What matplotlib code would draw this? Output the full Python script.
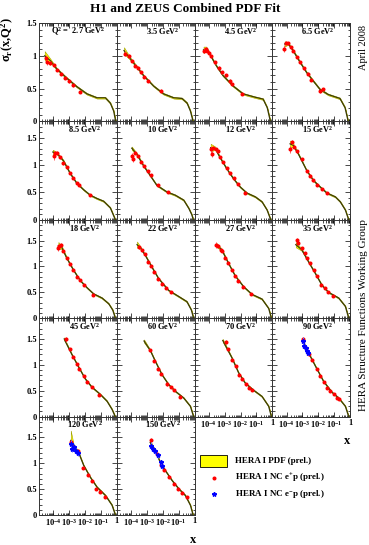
import numpy as np
import matplotlib
matplotlib.use("Agg")
import matplotlib.pyplot as plt
from matplotlib.ticker import LogLocator, MultipleLocator, FixedLocator, FuncFormatter, NullFormatter
from matplotlib.patches import Rectangle
from matplotlib.lines import Line2D

plt.rcParams["font.family"] = "Liberation Serif"
plt.rcParams["font.weight"] = "bold"
plt.rcParams["mathtext.fontset"] = "custom"
plt.rcParams["mathtext.rm"] = "Liberation Serif:bold"
plt.rcParams["mathtext.it"] = "Liberation Serif:bold"
plt.rcParams["mathtext.bf"] = "Liberation Serif:bold"

W, H = 369, 545

Q2_LABELS = ["2.7", "3.5", "4.5", "6.5", "8.5", "10", "12", "15", "18",
             "22", "27", "35", "45", "60", "70", "90", "120", "150"]

# fit curve (log10 x, sigma_r) per panel
CURVE_LOGX = [
    [-4.54, -4.20, -3.78, -3.15, -2.52, -1.88, -1.25, -0.72, -0.41, -0.20, -0.07],
    [-4.44, -4.06, -3.63, -3.21, -2.58, -1.95, -1.31, -0.79, -0.47, -0.26, -0.09],
    [-4.33, -4.16, -3.95, -3.53, -3.11, -2.47, -1.84, -1.10, -0.58, -0.32, -0.12],
    [-4.12, -3.91, -3.59, -3.17, -2.75, -2.33, -1.90, -1.38, -0.64, -0.32, -0.12],
    [-4.03, -3.78, -3.36, -2.94, -2.52, -2.09, -1.67, -1.25, -0.83, -0.41, -0.09],
    [-3.95, -3.63, -3.21, -2.79, -2.37, -1.74, -1.21, -0.68, -0.36, -0.18, -0.07],
    [-3.88, -3.60, -3.29, -2.86, -2.44, -2.02, -1.60, -1.07, -0.65, -0.33, -0.10],
    [-3.78, -3.57, -3.25, -2.73, -2.31, -1.88, -1.46, -0.93, -0.62, -0.30, -0.09],
    [-3.68, -3.47, -3.15, -2.73, -2.31, -1.88, -1.46, -0.93, -0.51, -0.26, -0.09],
    [-3.62, -3.40, -3.11, -2.69, -2.27, -1.64, -1.00, -0.48, -0.20, -0.06],
    [-3.54, -3.18, -2.76, -2.34, -1.81, -1.28, -0.65, -0.23, -0.06],
    [-3.42, -3.04, -2.62, -2.20, -1.78, -1.36, -0.72, -0.30, -0.09],
    [-3.31, -3.25, -2.83, -2.41, -1.99, -1.57, -1.04, -0.62, -0.30, -0.10],
    [-3.18, -2.79, -2.47, -2.05, -1.63, -1.21, -0.68, -0.26, -0.06],
    [-3.12, -2.55, -2.13, -1.71, -1.18, -0.65, -0.23, -0.06],
    [-3.00, -2.62, -2.09, -1.67, -1.14, -0.72, -0.30, -0.09],
    [-2.90, -2.73, -2.41, -2.09, -1.67, -1.25, -0.72, -0.30, -0.09],
    [-2.79, -2.47, -2.16, -1.84, -1.42, -1.00, -0.58, -0.26, -0.09],
]
CURVE_SIGMA = [
    [1.00, 0.93, 0.80, 0.66, 0.53, 0.42, 0.36, 0.36, 0.28, 0.16, 0.00],
    [1.08, 0.96, 0.83, 0.70, 0.54, 0.42, 0.36, 0.35, 0.28, 0.16, 0.00],
    [1.09, 1.11, 1.03, 0.85, 0.70, 0.54, 0.42, 0.37, 0.34, 0.21, 0.00],
    [1.18, 1.19, 1.08, 0.91, 0.75, 0.62, 0.49, 0.41, 0.35, 0.21, 0.00],
    [1.24, 1.22, 1.08, 0.85, 0.67, 0.55, 0.45, 0.39, 0.34, 0.22, 0.00],
    [1.31, 1.20, 0.99, 0.81, 0.63, 0.51, 0.45, 0.36, 0.21, 0.10, 0.00],
    [1.32, 1.31, 1.14, 0.93, 0.75, 0.60, 0.49, 0.42, 0.33, 0.18, 0.00],
    [1.39, 1.36, 1.20, 0.90, 0.72, 0.60, 0.49, 0.42, 0.33, 0.18, 0.00],
    [1.40, 1.37, 1.16, 0.93, 0.73, 0.59, 0.47, 0.39, 0.28, 0.16, 0.00],
    [1.42, 1.36, 1.22, 0.99, 0.77, 0.54, 0.42, 0.32, 0.16, 0.00],
    [1.42, 1.32, 1.06, 0.82, 0.61, 0.46, 0.37, 0.19, 0.00],
    [1.42, 1.32, 1.09, 0.87, 0.64, 0.50, 0.39, 0.23, 0.00],
    [1.50, 1.46, 1.20, 0.96, 0.73, 0.57, 0.43, 0.30, 0.14, 0.00],
    [1.46, 1.28, 1.07, 0.81, 0.62, 0.49, 0.36, 0.20, 0.00],
    [1.47, 1.14, 0.85, 0.65, 0.51, 0.39, 0.20, 0.00],
    [1.46, 1.23, 0.92, 0.68, 0.47, 0.36, 0.20, 0.00],
    [1.44, 1.34, 1.21, 0.96, 0.73, 0.54, 0.38, 0.19, 0.00],
    [1.40, 1.24, 1.02, 0.86, 0.67, 0.51, 0.38, 0.19, 0.00],
]
BAND_ERR = [
    [0.07, 0.03, 0.015, 0.012, 0.012, 0.012, 0.012, 0.012, 0.012, 0.012, 0.01],
    [0.05, 0.02, 0.015, 0.012, 0.012, 0.012, 0.012, 0.012, 0.012, 0.012, 0.01],
    [0.05, 0.03, 0.015, 0.012, 0.012, 0.012, 0.012, 0.012, 0.012, 0.012, 0.01],
    [0.04, 0.02, 0.015, 0.012, 0.012, 0.012, 0.012, 0.012, 0.012, 0.012, 0.01],
    [0.04, 0.02, 0.015, 0.012, 0.012, 0.012, 0.012, 0.012, 0.012, 0.012, 0.01],
    [0.03, 0.02, 0.015, 0.012, 0.012, 0.012, 0.012, 0.012, 0.012, 0.012, 0.01],
    [0.07, 0.03, 0.015, 0.012, 0.012, 0.012, 0.012, 0.012, 0.012, 0.012, 0.01],
    [0.06, 0.03, 0.015, 0.012, 0.012, 0.012, 0.012, 0.012, 0.012, 0.012, 0.01],
    [0.07, 0.03, 0.015, 0.012, 0.012, 0.012, 0.012, 0.012, 0.012, 0.012, 0.01],
    [0.06, 0.02, 0.015, 0.012, 0.012, 0.012, 0.012, 0.012, 0.012, 0.01],
    [0.04, 0.02, 0.012, 0.012, 0.012, 0.012, 0.012, 0.012, 0.01],
    [0.05, 0.02, 0.012, 0.012, 0.012, 0.012, 0.012, 0.012, 0.01],
    [0.03, 0.02, 0.012, 0.012, 0.012, 0.012, 0.012, 0.012, 0.012, 0.01],
    [0.03, 0.015, 0.012, 0.012, 0.012, 0.012, 0.012, 0.012, 0.01],
    [0.03, 0.012, 0.012, 0.012, 0.012, 0.012, 0.012, 0.01],
    [0.04, 0.015, 0.012, 0.012, 0.012, 0.012, 0.012, 0.01],
    [0.19, 0.04, 0.015, 0.012, 0.012, 0.012, 0.012, 0.012, 0.01],
    [0.04, 0.015, 0.012, 0.012, 0.012, 0.012, 0.012, 0.012, 0.01],
]

# HERA I NC e+p points
EP_LOGX = [
    [-4.48, -4.41, -4.20, -3.93, -3.74, -3.51, -3.25, -3.04, -2.77, -2.31],
    [-4.37, -4.10, -3.95, -3.74, -3.57, -3.36, -3.17, -2.94, -2.09],
    [-4.33, -4.20, -4.12, -3.99, -3.85, -3.63, -3.36, -3.15, -2.94, -2.68, -2.52, -1.88],
    [-4.18, -4.06, -3.89, -3.74, -3.59, -3.34, -3.13, -2.90, -2.68, -2.47, -1.90, -1.69],
    [-3.97, -3.90, -3.78, -3.57, -3.36, -3.15, -2.94, -2.73, -2.52, -2.35, -1.71],
    [-3.95, -3.89, -3.74, -3.53, -3.38, -3.17, -2.96, -2.75, -2.33, -1.70],
    [-3.88, -3.81, -3.71, -3.56, -3.45, -3.29, -3.08, -2.86, -2.65, -2.44, -2.19, -1.70],
    [-3.78, -3.63, -3.53, -3.36, -3.04, -2.73, -2.52, -2.31, -2.09, -1.78, -1.46],
    [-3.70, -3.63, -3.51, -3.36, -3.15, -2.94, -2.73, -2.52, -2.30, -2.09, -1.52],
    [-3.48, -3.32, -3.11, -2.90, -2.73, -2.52, -2.31, -2.06, -1.81, -1.49],
    [-3.56, -3.43, -3.26, -3.14, -2.97, -2.80, -2.55, -2.34, -2.13, -1.87, -1.32],
    [-3.33, -3.25, -3.04, -2.87, -2.72, -2.51, -2.30, -2.09, -1.84, -1.61, -1.40, -1.08],
    [-3.22, -2.94, -2.73, -2.52, -2.35, -2.09, -1.88, -1.57, -1.10],
    [-2.79, -2.52, -2.31, -2.10, -1.74, -1.46, -1.32, -0.90],
    [-2.93, -2.76, -2.51, -2.30, -2.09, -1.88, -1.67, -1.46, -1.25],
    [-2.98, -2.58, -2.37, -2.09, -1.88, -1.67, -1.46, -1.25, -1.04, -0.83, -0.68],
    [-2.90, -2.73, -2.47, -2.14, -1.84, -1.57, -1.29, -1.04, -0.72],
    [-2.75, -2.37, -2.08, -1.90, -1.63, -1.32, -1.06, -0.79, -0.47],
]
EP_SIGMA = [
    [0.96, 0.90, 0.89, 0.86, 0.79, 0.73, 0.66, 0.61, 0.55, 0.45],
    [1.03, 0.99, 0.92, 0.85, 0.82, 0.75, 0.68, 0.62, 0.47],
    [1.08, 1.11, 1.08, 1.04, 0.99, 0.90, 0.82, 0.75, 0.70, 0.62, 0.57, 0.42],
    [1.11, 1.19, 1.19, 1.13, 1.08, 0.98, 0.90, 0.81, 0.73, 0.63, 0.46, 0.49],
    [1.16, 1.22, 1.22, 1.14, 1.03, 0.96, 0.85, 0.77, 0.67, 0.64, 0.46],
    [1.17, 1.11, 1.23, 1.16, 1.06, 0.99, 0.90, 0.82, 0.63, 0.51],
    [1.29, 1.20, 1.32, 1.29, 1.25, 1.14, 1.05, 0.94, 0.85, 0.76, 0.66, 0.49],
    [1.29, 1.42, 1.34, 1.26, 1.11, 0.90, 0.81, 0.72, 0.64, 0.57, 0.49],
    [1.36, 1.40, 1.42, 1.29, 1.16, 1.04, 0.93, 0.80, 0.73, 0.64, 0.45],
    [1.38, 1.31, 1.24, 1.08, 1.00, 0.90, 0.76, 0.66, 0.58, 0.50],
    [1.42, 1.40, 1.32, 1.29, 1.16, 1.06, 0.93, 0.82, 0.71, 0.61, 0.46],
    [1.51, 1.45, 1.35, 1.25, 1.16, 1.06, 0.93, 0.82, 0.64, 0.58, 0.50, 0.43],
    [1.49, 1.31, 1.15, 1.02, 0.92, 0.78, 0.67, 0.57, 0.41],
    [1.28, 1.08, 0.92, 0.83, 0.62, 0.57, 0.51, 0.38],
    [1.44, 1.30, 1.10, 0.97, 0.81, 0.72, 0.62, 0.55, 0.52],
    [1.49, 1.20, 1.10, 0.92, 0.79, 0.66, 0.55, 0.49, 0.43, 0.36, 0.34],
    [1.40, 1.31, 1.24, 0.91, 0.77, 0.65, 0.50, 0.45, 0.34],
    [1.44, 1.18, 0.96, 0.86, 0.73, 0.59, 0.51, 0.43, 0.34],
]
EP_ERR = [
    [0.05, 0.04, 0.03, 0.02, 0.02, 0.02, 0.02, 0.02, 0.02, 0.02],
    [0.04, 0.03, 0.02, 0.02, 0.02, 0.02, 0.02, 0.02, 0.02],
    [0.04, 0.03, 0.02, 0.02, 0.02, 0.02, 0.02, 0.02, 0.02, 0.02, 0.02, 0.02],
    [0.05, 0.03, 0.02, 0.02, 0.02, 0.02, 0.02, 0.02, 0.02, 0.02, 0.02, 0.02],
    [0.06, 0.04, 0.03, 0.02, 0.02, 0.02, 0.02, 0.02, 0.02, 0.02, 0.02],
    [0.06, 0.05, 0.03, 0.02, 0.02, 0.02, 0.02, 0.02, 0.02, 0.02],
    [0.06, 0.05, 0.03, 0.03, 0.02, 0.02, 0.02, 0.02, 0.02, 0.02, 0.02, 0.02],
    [0.06, 0.04, 0.03, 0.02, 0.02, 0.02, 0.02, 0.02, 0.02, 0.02, 0.02],
    [0.06, 0.04, 0.04, 0.02, 0.02, 0.02, 0.02, 0.02, 0.02, 0.02, 0.02],
    [0.04, 0.03, 0.02, 0.02, 0.02, 0.02, 0.02, 0.02, 0.02, 0.02],
    [0.06, 0.04, 0.03, 0.02, 0.02, 0.02, 0.02, 0.02, 0.02, 0.02, 0.02],
    [0.04, 0.03, 0.02, 0.02, 0.02, 0.02, 0.02, 0.02, 0.02, 0.02, 0.02, 0.02],
    [0.04, 0.02, 0.02, 0.02, 0.02, 0.02, 0.02, 0.02, 0.02],
    [0.02, 0.02, 0.02, 0.02, 0.02, 0.02, 0.02, 0.02],
    [0.03, 0.02, 0.02, 0.02, 0.02, 0.02, 0.02, 0.02, 0.02],
    [0.05, 0.03, 0.02, 0.02, 0.02, 0.02, 0.02, 0.02, 0.02, 0.02, 0.02],
    [0.05, 0.04, 0.03, 0.02, 0.02, 0.02, 0.02, 0.02, 0.02],
    [0.05, 0.03, 0.02, 0.02, 0.02, 0.02, 0.02, 0.02, 0.02],
]

# HERA I NC e-p points (only at high Q2)
EM_LOGX = {
    15: [-2.98, -2.92, -2.79, -2.73, -2.66],
    16: [-2.87, -2.81, -2.68, -2.56, -2.45],
    17: [-2.75, -2.62, -2.47, -2.28, -2.12, -2.05],
}
EM_SIGMA = {
    15: [1.46, 1.37, 1.33, 1.26, 1.23],
    16: [1.37, 1.28, 1.31, 1.23, 1.19],
    17: [1.34, 1.28, 1.23, 1.15, 1.02, 0.94],
}
EM_ERR = {
    15: [0.07, 0.06, 0.06, 0.05, 0.05],
    16: [0.08, 0.07, 0.06, 0.06, 0.05],
    17: [0.07, 0.06, 0.06, 0.05, 0.05, 0.05],
}

COL_LEFT = [39, 116.7, 194.5, 272.3]
COL_W = 77.8
ROW_TOP = [23, 121.4, 219.8, 318.2, 416.6]
ROW_H = 98.4
ROW_YMAX = [1.5, 1.8, 1.9, 1.9, 1.9]
XMIN = 10 ** -4.9

BAND_COLOR = "#ffff00"
LINE_COLOR = "#3a3a08"


def fmt_x(v, pos):
    e = int(round(np.log10(v)))
    if e == 0:
        return "1"
    return "10$^{%d}$" % e


def fmt_y(v, pos):
    return "%g" % v


fig = plt.figure(figsize=(W / 100, H / 100), dpi=100)

for i, label in enumerate(Q2_LABELS):
    row, col = i // 4, i % 4
    l, t = COL_LEFT[col], ROW_TOP[row]
    ax = fig.add_axes([l / W, 1 - (t + ROW_H) / H, COL_W / W, ROW_H / H])
    ax.set_xscale("log")
    ax.set_xlim(XMIN, 1)
    ax.set_ylim(0, ROW_YMAX[row])

    cx = 10 ** np.array(CURVE_LOGX[i])
    cy = np.array(CURVE_SIGMA[i])
    be = np.array(BAND_ERR[i])
    ax.fill_between(cx, cy - be, cy + be, color=BAND_COLOR, lw=0.4,
                    edgecolor="#a0a000", zorder=2)
    ax.plot(cx, cy, color=LINE_COLOR, lw=0.9, zorder=3)

    ax.errorbar(10 ** np.array(EP_LOGX[i]), EP_SIGMA[i], yerr=EP_ERR[i],
                fmt="o", ms=1.9, color="red", mec="red", ecolor="#ff6060",
                elinewidth=0.7, capsize=0, zorder=4)
    if i in EM_LOGX:
        ax.errorbar(10 ** np.array(EM_LOGX[i]), EM_SIGMA[i], yerr=EM_ERR[i],
                    fmt="*", ms=3.2, color="blue", mec="blue", ecolor="#7070ff",
                    elinewidth=0.7, capsize=0, zorder=5)

    ax.xaxis.set_major_locator(FixedLocator([1e-4, 1e-3, 1e-2, 1e-1, 1]))
    ax.xaxis.set_minor_locator(LogLocator(base=10, subs=np.arange(2, 10), numticks=20))
    ax.xaxis.set_minor_formatter(NullFormatter())
    ax.xaxis.set_major_formatter(FuncFormatter(fmt_x))
    ax.yaxis.set_major_locator(MultipleLocator(0.5))
    ax.yaxis.set_minor_locator(MultipleLocator(0.1))
    ax.yaxis.set_major_formatter(FuncFormatter(fmt_y))

    ax.tick_params(which="both", direction="in", top=True, right=True,
                   width=0.5, labelsize=6, pad=1.5)
    ax.tick_params(which="major", length=3.5)
    ax.tick_params(which="minor", length=1.8)
    for s in ax.spines.values():
        s.set_linewidth(0.7)
        s.set_color("#333333")

    show_x = i in (14, 15, 16, 17)
    ax.tick_params(labelbottom=show_x, labelleft=(col == 0))

    if i == 0:
        ax.text(0.50, 0.915, "Q$^2$ =  %s GeV$^2$" % label, transform=ax.transAxes,
                ha="center", va="center", fontsize=6)
    else:
        ax.text(0.59, 0.915, "%s GeV$^2$" % label, transform=ax.transAxes,
                ha="center", va="center", fontsize=6)

# overlay for free text and legend, in pixel coordinates
ov = fig.add_axes([0, 0, 1, 1], facecolor="none")
ov.set_xlim(0, W)
ov.set_ylim(H, 0)
ov.axis("off")

ov.text(185, 9, "H1 and ZEUS Combined PDF Fit", ha="center", va="center",
        fontsize=9.5)
ov.text(7.5, 40, "σ$_{r}$(x,Q$^{2}$)", rotation=90, ha="center", va="center",
        fontsize=9)
ov.text(363, 47, "April 2008", rotation=90, ha="center", va="center",
        fontsize=7.5, fontweight="normal")
ov.text(363, 315, "HERA Structure Functions Working Group", rotation=90,
        ha="center", va="center", fontsize=8, fontweight="normal")
ov.text(347, 441, "x", ha="center", va="center", fontsize=9)
ov.text(193, 540, "x", ha="center", va="center", fontsize=9)

ov.add_patch(Rectangle((200, 455), 27, 12, facecolor=BAND_COLOR,
                       edgecolor="black", lw=0.6))
ov.add_line(Line2D([214], [478], marker="o", ms=1.9, color="red", ls="none"))
ov.add_line(Line2D([214], [494], marker="*", ms=3.2, color="blue", ls="none"))
ov.text(235, 461, "HERA I PDF (prel.)", va="center", fontsize=6.5)
ov.text(235, 478, "HERA I NC e$^{+}$p (prel.)", va="center", fontsize=6.5)
ov.text(235, 494, "HERA I NC e$^{-}$p (prel.)", va="center", fontsize=6.5)

fig.savefig("out.png", dpi=100)
